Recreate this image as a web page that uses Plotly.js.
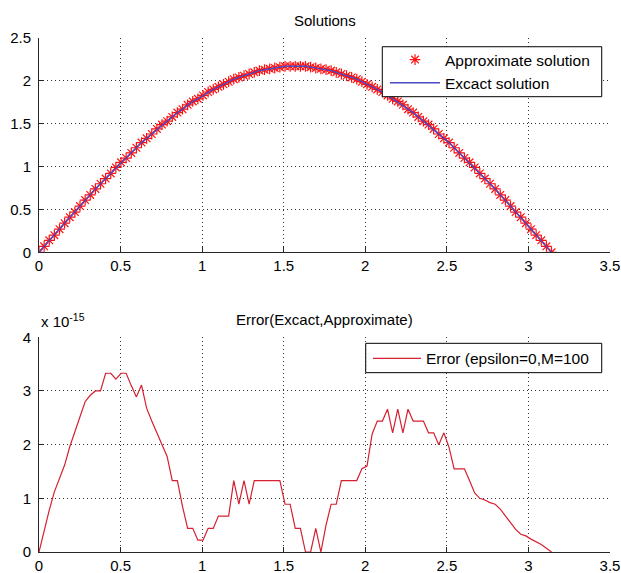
<!DOCTYPE html>
<html>
<head>
<meta charset="utf-8">
<script src="https://cdn.plot.ly/plotly-3.0.1.min.js"></script>
<style>
  html, body { margin: 0; padding: 0; background: #fff; }
  #chart { width: 621px; height: 573px; }
</style>
</head>
<body>
<div id="chart"></div>
<script>
// Grid points x_i (i = 0..100, step pi/100)
const xPoints = [0, 0.0314, 0.0628, 0.0942, 0.1257, 0.1571, 0.1885, 0.2199, 0.2513, 0.2827,
  0.3142, 0.3456, 0.3770, 0.4084, 0.4398, 0.4712, 0.5027, 0.5341, 0.5655, 0.5969,
  0.6283, 0.6597, 0.6912, 0.7226, 0.7540, 0.7854, 0.8168, 0.8482, 0.8796, 0.9111,
  0.9425, 0.9739, 1.0053, 1.0367, 1.0681, 1.0996, 1.1310, 1.1624, 1.1938, 1.2252,
  1.2566, 1.2881, 1.3195, 1.3509, 1.3823, 1.4137, 1.4451, 1.4765, 1.5080, 1.5394,
  1.5708, 1.6022, 1.6336, 1.6650, 1.6965, 1.7279, 1.7593, 1.7907, 1.8221, 1.8535,
  1.8850, 1.9164, 1.9478, 1.9792, 2.0106, 2.0420, 2.0735, 2.1049, 2.1363, 2.1677,
  2.1991, 2.2305, 2.2619, 2.2934, 2.3248, 2.3562, 2.3876, 2.4190, 2.4504, 2.4819,
  2.5133, 2.5447, 2.5761, 2.6075, 2.6389, 2.6704, 2.7018, 2.7332, 2.7646, 2.7960,
  2.8274, 2.8588, 2.8903, 2.9217, 2.9531, 2.9845, 3.0159, 3.0473, 3.0788, 3.1102,
  3.1416];

// Approximate solution (red asterisks)
const approxSolution = [0, 0.07, 0.14, 0.20, 0.27, 0.34, 0.41, 0.47, 0.54, 0.61,
  0.67, 0.74, 0.80, 0.86, 0.92, 0.99, 1.05, 1.10, 1.16, 1.22,
  1.28, 1.33, 1.38, 1.44, 1.49, 1.53, 1.58, 1.63, 1.67, 1.72,
  1.76, 1.79, 1.83, 1.87, 1.90, 1.93, 1.96, 1.99, 2.02, 2.04,
  2.06, 2.08, 2.10, 2.12, 2.13, 2.14, 2.15, 2.16, 2.17, 2.17,
  2.17, 2.17, 2.17, 2.16, 2.15, 2.14, 2.13, 2.12, 2.10, 2.08,
  2.06, 2.04, 2.02, 1.99, 1.96, 1.93, 1.90, 1.87, 1.83, 1.79,
  1.76, 1.72, 1.67, 1.63, 1.58, 1.53, 1.49, 1.44, 1.38, 1.33,
  1.28, 1.22, 1.16, 1.10, 1.05, 0.99, 0.92, 0.86, 0.80, 0.74,
  0.67, 0.61, 0.54, 0.47, 0.41, 0.34, 0.27, 0.20, 0.14, 0.07,
  0];

// Exact solution (blue line) - identical to the approximate one at plot resolution
const exactSolution = [0, 0.07, 0.14, 0.20, 0.27, 0.34, 0.41, 0.47, 0.54, 0.61,
  0.67, 0.74, 0.80, 0.86, 0.92, 0.99, 1.05, 1.10, 1.16, 1.22,
  1.28, 1.33, 1.38, 1.44, 1.49, 1.53, 1.58, 1.63, 1.67, 1.72,
  1.76, 1.79, 1.83, 1.87, 1.90, 1.93, 1.96, 1.99, 2.02, 2.04,
  2.06, 2.08, 2.10, 2.12, 2.13, 2.14, 2.15, 2.16, 2.17, 2.17,
  2.17, 2.17, 2.17, 2.16, 2.15, 2.14, 2.13, 2.12, 2.10, 2.08,
  2.06, 2.04, 2.02, 1.99, 1.96, 1.93, 1.90, 1.87, 1.83, 1.79,
  1.76, 1.72, 1.67, 1.63, 1.58, 1.53, 1.49, 1.44, 1.38, 1.33,
  1.28, 1.22, 1.16, 1.10, 1.05, 0.99, 0.92, 0.86, 0.80, 0.74,
  0.67, 0.61, 0.54, 0.47, 0.41, 0.34, 0.27, 0.20, 0.14, 0.07,
  0];

// Error |exact - approximate|, in units of 1e-15
const errorE15 = [0, 0.42, 0.78, 1.12, 1.38, 1.62, 1.96, 2.24, 2.55, 2.80,
  2.92, 3.00, 3.00, 3.33, 3.33, 3.22, 3.33, 3.33, 3.10, 2.89,
  3.11, 2.68, 2.44, 2.22, 2.02, 1.78, 1.33, 1.33, 0.85, 0.44,
  0.44, 0.22, 0.22, 0.44, 0.44, 0.67, 0.67, 0.67, 1.33, 0.89,
  1.33, 0.89, 1.33, 1.33, 1.33, 1.33, 1.33, 1.33, 0.89, 0.89,
  0.44, 0.44, 0, 0, 0.44, 0, 0.50, 0.89, 0.89, 1.33,
  1.33, 1.33, 1.33, 1.55, 1.60, 2.20, 2.44, 2.44, 2.66, 2.22,
  2.66, 2.22, 2.66, 2.44, 2.44, 2.44, 2.22, 2.22, 2.00, 2.22,
  1.95, 1.55, 1.55, 1.55, 1.33, 1.10, 1.00, 0.97, 0.92, 0.89,
  0.80, 0.67, 0.54, 0.42, 0.33, 0.30, 0.24, 0.19, 0.14, 0.07,
  0];

const FONT = 'Liberation Sans, Arial, Helvetica, sans-serif';
const AX = '#262626';

function axisStyle(extra) {
  return Object.assign({
    showline: true, linecolor: AX, linewidth: 1,
    ticks: 'inside', ticklen: 5, tickwidth: 1, tickcolor: AX,
    showgrid: true, gridcolor: '#333333', griddash: '1px,3px', gridwidth: 1,
    zeroline: false, mirror: false,
    tickfont: { family: FONT, size: 15, color: '#000' }
  }, extra);
}

const traces = [
  {
    x: xPoints, y: approxSolution, xaxis: 'x', yaxis: 'y',
    type: 'scatter', mode: 'markers', name: 'Approximate solution',
    marker: { symbol: 'asterisk-open', size: 9, color: '#ff1010', line: { color: '#ff1010', width: 1.2 } },
    legend: 'legend'
  },
  {
    x: xPoints, y: exactSolution, xaxis: 'x', yaxis: 'y',
    type: 'scatter', mode: 'lines', name: 'Excact solution',
    line: { color: '#4a4ac4', width: 1.4 },
    legend: 'legend'
  },
  {
    x: xPoints, y: errorE15, xaxis: 'x2', yaxis: 'y2',
    type: 'scatter', mode: 'lines', name: 'Error (epsilon=0,M=100',
    line: { color: '#d42030', width: 1.2 },
    legend: 'legend2'
  }
];

const legendBase = {
  xref: 'paper', yref: 'paper', xanchor: 'left', yanchor: 'top',
  bgcolor: 'rgba(255,255,255,0)', borderwidth: 0,
  font: { family: FONT, size: 15.5, color: '#000' },
  itemwidth: 50, tracegroupgap: 0
};

const layout = {
  width: 621, height: 573,
  margin: { l: 39, r: 11, t: 38, b: 21, pad: 0 },
  paper_bgcolor: '#ffffff', plot_bgcolor: '#ffffff',
  font: { family: FONT, size: 15, color: '#000' },
  showlegend: true,
  xaxis: axisStyle({ domain: [0, 1], anchor: 'y', range: [0, 3.5], tick0: 0, dtick: 0.5 }),
  yaxis: axisStyle({ domain: [0.583, 1], anchor: 'x', range: [0, 2.5], tick0: 0, dtick: 0.5, ticklabelstandoff: 4 }),
  xaxis2: axisStyle({ domain: [0, 1], anchor: 'y2', range: [0, 3.5], tick0: 0, dtick: 0.5 }),
  yaxis2: axisStyle({ domain: [0, 0.4177], anchor: 'x2', range: [0, 4], tick0: 0, dtick: 1, ticklabelstandoff: 4 }),
  legend: Object.assign({}, legendBase, { x: 0.606, y: 0.9903 }),
  legend2: Object.assign({}, legendBase, { x: 0.5762, y: 0.4090, itemwidth: 48 }),
  shapes: [
    // legend frames (MATLAB-style boxes)
    { type: 'rect', xref: 'paper', yref: 'paper', x0: 0.6012, x1: 0.9855, y0: 0.8858, y1: 0.9830,
      line: { color: '#000', width: 1 }, fillcolor: '#ffffff', layer: 'above' },
    { type: 'rect', xref: 'paper', yref: 'paper', x0: 0.5722, x1: 0.9855, y0: 0.3489, y1: 0.4060,
      line: { color: '#000', width: 1 }, fillcolor: '#ffffff', layer: 'above' }
  ],
  annotations: [
    { text: 'Solutions', xref: 'paper', yref: 'paper', x: 0.5, y: 1.035,
      xanchor: 'center', yanchor: 'middle', showarrow: false,
      font: { family: FONT, size: 15, color: '#000' } },
    { text: 'Error(Excact,Approximate)', xref: 'paper', yref: 'paper', x: 0.5, y: 0.4533,
      xanchor: 'center', yanchor: 'middle', showarrow: false,
      font: { family: FONT, size: 15, color: '#000' } },
    { text: 'x 10<sup>-15</sup>', xref: 'paper', yref: 'paper', x: 0.0, y: 0.428,
      xanchor: 'left', yanchor: 'bottom', showarrow: false,
      font: { family: FONT, size: 15, color: '#000' } }
  ]
};

Plotly.newPlot('chart', traces, layout, { staticPlot: true, displayModeBar: false });
</script>
</body>
</html>
